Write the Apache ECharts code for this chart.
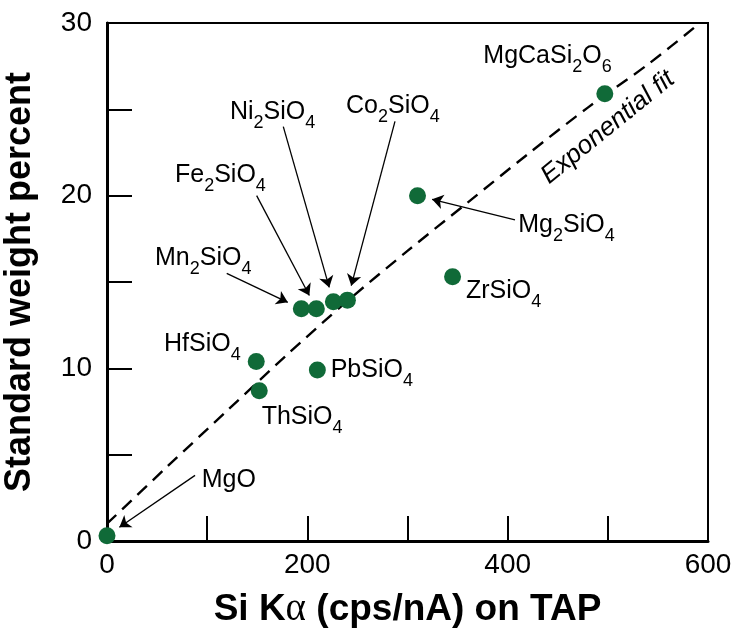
<!DOCTYPE html>
<html>
<head>
<meta charset="utf-8">
<script src="https://cdn.jsdelivr.net/npm/echarts@6/dist/echarts.min.js"></script>
<style>
  html, body { margin: 0; padding: 0; background: #fff; }
  #chart { width: 736px; height: 629px; }
</style>
</head>
<body>
<div id="chart"></div>
<script>
// standards: Si K-alpha count rate vs weight percent Si
const compounds = ['MgO', 'HfSiO4', 'ThSiO4', 'PbSiO4', 'Mn2SiO4', 'Fe2SiO4', 'Ni2SiO4', 'Co2SiO4', 'Mg2SiO4', 'ZrSiO4', 'MgCaSi2O6']
const siCounts = [0, 149, 152, 210, 194, 209, 226, 240, 310, 345, 497]
const weightPct = [0.3, 10.4, 8.7, 9.9, 13.45, 13.45, 13.85, 13.95, 20.0, 15.3, 25.9]

// exponential fit
const fitSi = [0, 60, 120, 180, 240, 300, 360, 420, 480, 540, 592]
const fitWeight = [1.0, 4.3, 7.55, 10.8, 13.9, 16.8, 19.6, 22.4, 25.1, 27.6, 30.0]

const xTickLabels = [0, 200, 400, 600]
const yTickLabels = [0, 10, 20, 30]

// label text (rich, {s|..} = subscript)
const labelText = {
  MgO: 'MgO',
  HfSiO4: 'HfSiO{s|4}',
  ThSiO4: 'ThSiO{s|4}',
  PbSiO4: 'PbSiO{s|4}',
  Mn2SiO4: 'Mn{s|2}SiO{s|4}',
  Fe2SiO4: 'Fe{s|2}SiO{s|4}',
  Ni2SiO4: 'Ni{s|2}SiO{s|4}',
  Co2SiO4: 'Co{s|2}SiO{s|4}',
  Mg2SiO4: 'Mg{s|2}SiO{s|4}',
  ZrSiO4: 'ZrSiO{s|4}',
  MgCaSi2O6: 'MgCaSi{s|2}O{s|6}'
}
// where each label sits (left edge, middle), in axis units
const labelAt = {
  MgO: [94.5, 3.5],
  HfSiO4: [56.9, 11.4],
  ThSiO4: [154.4, 7.2],
  PbSiO4: [223.3, 9.9],
  Mn2SiO4: [47.9, 16.4],
  Fe2SiO4: [67.9, 21.2],
  Ni2SiO4: [122.8, 24.85],
  Co2SiO4: [238.6, 25.2],
  Mg2SiO4: [410.6, 18.3],
  ZrSiO4: [358.4, 14.5],
  MgCaSi2O6: [375.7, 28.1]
}
// arrow tails, in axis units; heads go to the point itself
const arrowFrom = {
  MgO: [87.9, 3.8],
  Mn2SiO4: [119.5, 15.5],
  Fe2SiO4: [149.4, 20.0],
  Ni2SiO4: [176, 24.0],
  Co2SiO4: [287.5, 24.3],
  Mg2SiO4: [407.3, 18.6]
}
const fitLabelAt = [500, 23.95]

const FONT = 'Liberation Sans, Arial, Helvetica, sans-serif'
const GREEN = '#106a38'
const DOT = 17
const ARROW = 11

const chart = echarts.init(document.getElementById('chart'), null, { renderer: 'canvas' })

const noteData = compounds.map(name => ({
  value: labelAt[name],
  label: { formatter: labelText[name] }
}))
noteData.push({
  value: fitLabelAt,
  label: {
    formatter: 'Exponential fit',
    position: 'inside',
    rotate: 39,
    fontStyle: 'italic',
    fontSize: 26,
    lineHeight: 28
  }
})

chart.setOption({
  animation: false,
  backgroundColor: '#fff',
  grid: {
    left: 107,
    right: 28,
    top: 23,
    bottom: 88,
    outerBoundsMode: 'none',
    containLabel: false,
    show: true,
    borderColor: '#000',
    borderWidth: 2,
    backgroundColor: 'transparent'
  },
  xAxis: {
    type: 'value',
    min: 0,
    max: 600,
    interval: 100,
    name: 'Si K{a|α} (cps/nA) on TAP',
    nameLocation: 'middle',
    nameGap: 49,
    nameTextStyle: {
      color: '#000',
      fontFamily: FONT,
      fontWeight: 'bold',
      fontSize: 37,
      rich: {
        a: { fontFamily: 'Liberation Serif, serif', fontWeight: 'normal', fontSize: 39, color: '#000' }
      }
    },
    axisLine: { lineStyle: { color: '#000', width: 3 } },
    axisTick: { inside: true, length: 25, lineStyle: { color: '#000', width: 2 } },
    axisLabel: {
      color: '#000',
      fontFamily: FONT,
      fontSize: 28,
      margin: 10,
      formatter: v => (xTickLabels.includes(v) ? String(v) : '')
    },
    splitLine: { show: false }
  },
  yAxis: {
    type: 'value',
    min: 0,
    max: 30,
    interval: 5,
    name: 'Standard weight percent',
    nameLocation: 'middle',
    nameGap: 69,
    nameTextStyle: {
      color: '#000',
      fontFamily: FONT,
      fontWeight: 'bold',
      fontSize: 36
    },
    axisLine: { lineStyle: { color: '#000', width: 3 } },
    axisTick: { inside: true, length: 25, lineStyle: { color: '#000', width: 2 } },
    axisLabel: {
      color: '#000',
      fontFamily: FONT,
      fontSize: 28,
      margin: 15,
      formatter: v => (yTickLabels.includes(v) ? String(v) : '')
    },
    splitLine: { show: false }
  },
  series: [
    {
      name: 'standards',
      type: 'scatter',
      symbol: 'circle',
      symbolSize: DOT,
      itemStyle: { color: GREEN, opacity: 1 },
      data: siCounts.map((x, i) => [x, weightPct[i]]),
      z: 5,
      silent: true
    },
    {
      name: 'fit',
      type: 'line',
      showSymbol: false,
      smooth: 0.3,
      lineStyle: { color: '#000', width: 2.4, type: [13, 8] },
      data: fitSi.map((x, i) => [x, fitWeight[i]]),
      z: 3,
      silent: true
    },
    {
      name: 'notes',
      type: 'scatter',
      symbolSize: 0,
      silent: true,
      z: 6,
      itemStyle: { opacity: 1 },
      label: {
        show: true,
        position: 'right',
        distance: 0,
        color: '#000',
        opacity: 1,
        fontFamily: FONT,
        fontSize: 25,
        lineHeight: 40,
        rich: {
          s: { fontFamily: FONT, fontSize: 18, lineHeight: 18, verticalAlign: 'bottom', color: '#000' }
        }
      },
      data: noteData
    }
  ]
})

// arrows: tail from arrowFrom, head stops at the edge of the dot
const arrowLines = Object.keys(arrowFrom).map(name => {
  const i = compounds.indexOf(name)
  const p0 = chart.convertToPixel({ gridIndex: 0 }, arrowFrom[name])
  const p1 = chart.convertToPixel({ gridIndex: 0 }, [siCounts[i], weightPct[i]])
  const dx = p1[0] - p0[0]
  const dy = p1[1] - p0[1]
  const len = Math.sqrt(dx * dx + dy * dy)
  const back = DOT / 2 + 1 + ARROW / 2
  const end = [p1[0] - dx / len * back, p1[1] - dy / len * back]
  return [
    { coord: arrowFrom[name] },
    { coord: chart.convertFromPixel({ gridIndex: 0 }, end) }
  ]
})

chart.setOption({
  series: [{}, {}, {
    markLine: {
      silent: true,
      symbol: ['none', 'arrow'],
      symbolSize: ARROW,
      label: { show: false },
      lineStyle: { color: '#000', width: 1.3, type: 'solid', opacity: 1 },
      emphasis: { disabled: true },
      data: arrowLines
    }
  }]
})
</script>
</body>
</html>
